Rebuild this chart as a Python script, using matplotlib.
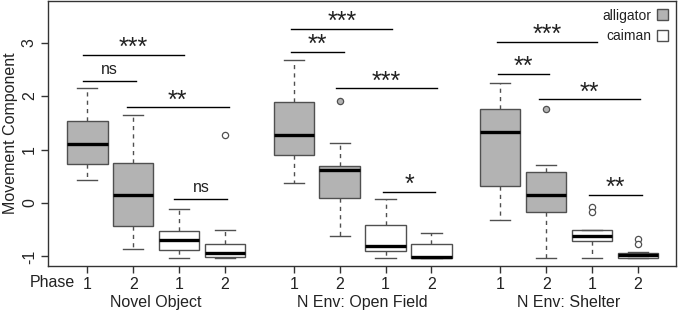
import matplotlib
matplotlib.use("Agg")
import matplotlib.pyplot as plt
from matplotlib.patches import Patch
from matplotlib.transforms import blended_transform_factory

plt.rcParams['font.family'] = ['Liberation Sans', 'DejaVu Sans']

# ---- data ----
groups = ["Novel Object", "N Env: Open Field", "N Env: Shelter"]
phase_labels = ["1", "2", "1", "2"]
species = ["alligator", "alligator", "caiman", "caiman"] * 3
positions = [1, 2, 3, 4, 5.5, 6.5, 7.5, 8.5, 10, 11, 12, 13]

whisker_lo = [0.43, -0.86, -1.03, -1.03, 0.38, -0.62, -1.03, -1.03, -0.32, -1.03, -1.03, -1.03]
q1 =         [0.72, -0.44, -0.88, -1.02, 0.89, 0.10, -0.90, -1.03, 0.32, -0.17, -0.72, -1.03]
median =     [1.11, 0.14, -0.70, -0.94, 1.28, 0.62, -0.81, -1.02, 1.33, 0.14, -0.62, -0.97]
q3 =         [1.535, 0.74, -0.53, -0.77, 1.89, 0.70, -0.42, -0.77, 1.75, 0.58, -0.51, -0.93]
whisker_hi = [2.16, 1.65, -0.11, -0.51, 2.67, 1.13, 0.08, -0.57, 2.24, 0.71, -0.50, -0.92]
outliers = [[], [], [], [1.28], [], [1.90], [], [], [], [1.75], [-0.07, -0.17], [-0.68, -0.76]]

# significance brackets: (from position, to position, height, label)
sig_from =  [0.9, 0.9, 1.86, 2.9, 5.44, 5.44, 6.42, 7.45, 9.93, 9.95, 10.85, 11.94]
sig_to =    [3.1, 2.06, 4.08, 4.05, 7.65, 6.59, 8.62, 8.58, 12.1, 11.07, 13.05, 13.09]
sig_y =     [2.77, 2.29, 1.79, 0.08, 3.26, 2.83, 2.15, 0.21, 3.02, 2.42, 1.94, 0.15]
sig_label = ["***", "ns", "**", "ns", "***", "**", "***", "*", "***", "**", "**", "**"]

colors = {"alligator": "#b3b3b3", "caiman": "#ffffff"}
edge = "#505050"
txt = "#222222"
fs = 11.5

fig = plt.figure(figsize=(6.78, 3.12), dpi=100)
ax = fig.add_axes([48 / 678, 1 - 266 / 312, 628 / 678, 265 / 312])

stats = []
for i in range(len(positions)):
    stats.append(dict(whislo=whisker_lo[i], q1=q1[i], med=median[i], q3=q3[i],
                      whishi=whisker_hi[i], fliers=outliers[i]))

for i, st in enumerate(stats):
    fc = colors[species[i]]
    ax.bxp([st], positions=[positions[i]], widths=0.88, patch_artist=True,
           showfliers=True, capwidths=0.44,
           boxprops=dict(facecolor=fc, edgecolor=edge, linewidth=1.0),
           medianprops=dict(color="black", linewidth=2.4, solid_capstyle="butt"),
           whiskerprops=dict(color=edge, linewidth=1.0, linestyle=(0, (3, 3))),
           capprops=dict(color=edge, linewidth=1.0),
           flierprops=dict(marker="o", markersize=4.5, markerfacecolor=fc,
                           markeredgecolor=edge, markeredgewidth=0.9))

# significance brackets
for x1, x2, y, lab in zip(sig_from, sig_to, sig_y, sig_label):
    ax.plot([x1, x2], [y, y], color="black", linewidth=1.0)
    if lab == "ns":
        ax.text((x1 + x2) / 2, y + 0.06, lab, ha="center", va="bottom", fontsize=fs, color=txt)
    else:
        ax.text((x1 + x2) / 2, y - 0.10, lab, ha="center", va="bottom", fontsize=18, color=txt)

ax.set_xlim(0.143, 13.83)
ax.set_ylim(-1.18, 3.78)
ax.set_xticks(positions)
ax.set_xticklabels(phase_labels * 3, fontsize=fs)
ax.set_yticks([-1, 0, 1, 2, 3])
ax.set_yticklabels(["-1", "0", "1", "2", "3"], fontsize=fs, rotation=90, va="center")
ax.tick_params(axis="both", direction="out", length=5, width=1, color="#333333", labelcolor=txt)
ax.tick_params(axis="x", pad=3)
ax.tick_params(axis="y", pad=3)
for sp in ax.spines.values():
    sp.set_color("#333333")
    sp.set_linewidth(1.0)

ax.set_ylabel("Movement Component", fontsize=fs, color=txt, labelpad=3)

trans = blended_transform_factory(ax.transData, ax.transAxes)
ax.text(0.73, -0.064, "Phase", transform=trans, ha="right", va="center", fontsize=fs, color=txt)
group_centers = [2.5, 7.0, 11.5]
for gc, g in zip(group_centers, groups):
    ax.text(gc, -0.136, g, transform=trans, ha="center", va="center", fontsize=fs, color=txt)

handles = [Patch(facecolor=colors["alligator"], edgecolor=edge, label="alligator"),
           Patch(facecolor=colors["caiman"], edgecolor=edge, label="caiman")]
ax.legend(handles=handles, loc="upper right", frameon=False, markerfirst=False,
          handlelength=0.85, handleheight=0.85, handletextpad=0.35, labelspacing=0.45,
          borderaxespad=0.15, fontsize=10, labelcolor=txt)

fig.savefig("out.png", dpi=100)
